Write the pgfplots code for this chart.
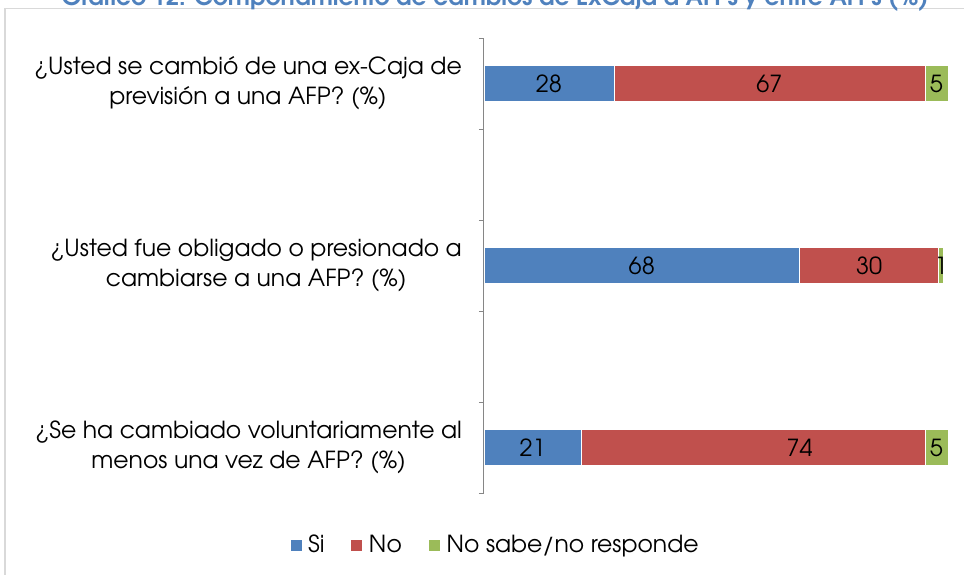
\documentclass[border=0pt]{standalone}
\usepackage{fontspec}
\setmainfont{texgyreadventor}[Extension=.otf,UprightFont=*-regular,BoldFont=*-bold]
\usepackage{pgfplots}
\pgfplotsset{compat=1.18}
\definecolor{cSi}{HTML}{4F81BD}
\definecolor{cNo}{HTML}{C0504D}
\definecolor{cNs}{HTML}{9BBB59}
\definecolor{axgray}{HTML}{868686}
\definecolor{framegray}{HTML}{D9D9D9}
\begin{document}
\begin{tikzpicture}
\useasboundingbox (0pt,0pt) rectangle (964pt,575pt);
\clip (0pt,0pt) rectangle (964pt,575pt);
\draw[framegray, line width=1.2pt] (5pt,-10pt) -- (5pt,566.5pt) -- (990pt,566.5pt);
\node[anchor=base, inner sep=0pt, font=\fontsize{23.5}{28}\selectfont\bfseries, text=cSi] at (495pt,569pt) {Gráfico 12: Comportamiento de cambios de ExCaja a AFPs y entre AFPs (\%)};
\begin{axis}[
  at={(484pt,82pt)}, anchor=south west,
  scale only axis, width=464pt, height=455pt,
  xbar stacked, bar width=0.4,
  xmin=0, xmax=100, ymin=-0.5, ymax=4.5, y dir=reverse,
  axis x line=none, axis y line*=left,
  y axis line style={axgray, line width=1pt},
  ytick={-0.5,0.5,1.5,2.5,3.5,4.5}, yticklabels={},
  tick align=outside, major tick length=5pt,
  ytick style={axgray, line width=1pt},
  legend style={at={(0.024,-0.114)}, anchor=center, draw=none, fill=none,
    legend columns=3, font=\fontsize{23.5}{28}\selectfont,
    /tikz/every even column/.append style={column sep=24pt},
    legend cell align=left},
  legend image code/.code={\fill[#1] (0pt,-6pt) rectangle (12pt,6pt); \path (16pt,0pt);},
  clip=false,
]
\addplot[fill=cSi, draw=white, line width=0.5pt] coordinates {(28,0) (68,2) (21,4)};
\addplot[fill=cNo, draw=white, line width=0.5pt] coordinates {(67,0) (30,2) (74,4)};
\addplot[fill=cNs, draw=white, line width=0.5pt] coordinates {(5,0) (1,2) (5,4)};
\legend{Si, No, No sabe/no responde}
\node[anchor=east, align=center, inner sep=0pt, font=\fontsize{23.5}{30}\selectfont, xshift=-22pt] at (axis cs:0,0) {¿Usted se cambió de una ex-Caja de\\previsión a una AFP? (\%)};
\node[anchor=east, align=center, inner sep=0pt, font=\fontsize{23.5}{30}\selectfont, xshift=-22pt] at (axis cs:0,2) {¿Usted fue obligado o presionado a\\cambiarse a una AFP? (\%)};
\node[anchor=east, align=center, inner sep=0pt, font=\fontsize{23.5}{30}\selectfont, xshift=-22pt] at (axis cs:0,4) {¿Se ha cambiado voluntariamente al\\menos una vez de AFP? (\%)};
\end{axis}
\begin{axis}[
  at={(484pt,82pt)}, anchor=south west,
  scale only axis, width=464pt, height=455pt,
  xmin=0, xmax=100, ymin=-0.5, ymax=4.5, y dir=reverse,
  hide axis, clip=false,
]
\addplot[only marks, mark=none, nodes near coords, point meta=explicit symbolic,
  every node near coord/.append style={anchor=center, text=black, font=\fontsize{23.5}{28}\selectfont, inner sep=0pt}]
  coordinates {(14,0) [28] (61.5,0) [67] (97.5,0) [5]
               (34,2) [68] (83,2) [30] (98.5,2) [1]
               (10.5,4) [21] (68,4) [74] (97.5,4) [5]};
\end{axis}
\end{tikzpicture}
\end{document}
